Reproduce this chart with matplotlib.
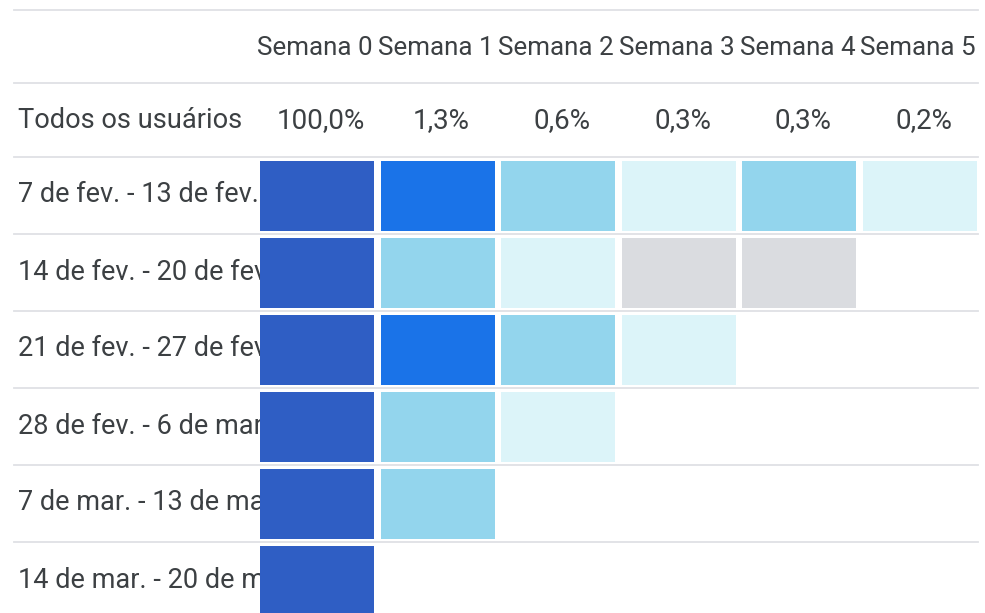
import matplotlib
matplotlib.use("Agg")
import matplotlib.pyplot as plt
import numpy as np
from matplotlib.colors import BoundaryNorm, ListedColormap

plt.rcParams["font.family"] = ["Roboto", "DejaVu Sans"]

WEEKS = ["Semana 0", "Semana 1", "Semana 2", "Semana 3", "Semana 4", "Semana 5"]
OVERALL = ["100,0%", "1,3%", "0,6%", "0,3%", "0,3%", "0,2%"]
COHORTS = [
    "7 de fev. - 13 de fev.",
    "14 de fev. - 20 de fev.",
    "21 de fev. - 27 de fev.",
    "28 de fev. - 6 de mar.",
    "7 de mar. - 13 de mar.",
    "14 de mar. - 20 de mar.",
]
# retention (%) per cohort, estimated from the cell shading
RETENTION = [
    [100.0, 2.4, 1.0, 0.3, 0.6, 0.2],
    [100.0, 0.9, 0.3, 0.0, 0.0],
    [100.0, 2.2, 0.9, 0.3],
    [100.0, 0.8, 0.3],
    [100.0, 0.7],
    [100.0],
]

# shading bins used by the report
BIN_EDGES = [-0.5, 0.05, 0.5, 2.0, 50.0, 101.0]
BIN_COLORS = ["#dadce0", "#dcf4f9", "#93d5ed", "#1a73e8", "#2f5ec4"]

TEXT = "#3c4043"
GRID = "#dfe1e5"

# layout in pixels
COL_LEFT = 260
COL_PITCH = 120.6
CELL_W = 114
ROW_TOP = 161
ROW_PITCH = 77
CELL_H = 70

cmap = ListedColormap(BIN_COLORS)
norm = BoundaryNorm(BIN_EDGES, cmap.N)

fig = plt.figure(figsize=(9.85, 6.13), dpi=100)
ax = fig.add_axes([0, 0, 1, 1])
ax.set_xlim(0, 985)
ax.set_ylim(613, 0)
ax.axis("off")

# separator lines
line_ys = [10, 83] + [157 + ROW_PITCH * k for k in range(len(COHORTS))]
for y in line_ys:
    ax.plot([14, 978], [y, y], color=GRID, linewidth=1.3, zorder=0)

col_centers = COL_LEFT + CELL_W / 2 + COL_PITCH * np.arange(len(WEEKS))

for xc, week in zip(col_centers, WEEKS):
    ax.text(xc - 2, 48, week, ha="center", va="center", fontsize=18.7, color=TEXT)

ax.text(18, 121, "Todos os usuários", ha="left", va="center", fontsize=19.6, color=TEXT)
for xc, pct in zip(col_centers, OVERALL):
    ax.text(xc + 4, 121, pct, ha="center", va="center", fontsize=20, color=TEXT)

for i, (label, values) in enumerate(zip(COHORTS, RETENTION)):
    top = ROW_TOP + ROW_PITCH * i
    ax.text(18, top + CELL_H / 2 - 1, label, ha="left", va="center", fontsize=19.5,
            color=TEXT, zorder=1)
    vals = np.array(values)
    lefts = COL_LEFT + COL_PITCH * np.arange(len(vals))
    ax.bar(lefts, CELL_H, width=CELL_W, bottom=top, align="edge",
           color=cmap(norm(vals)), linewidth=0, zorder=2)

fig.savefig("out.png", dpi=100, facecolor="white")
